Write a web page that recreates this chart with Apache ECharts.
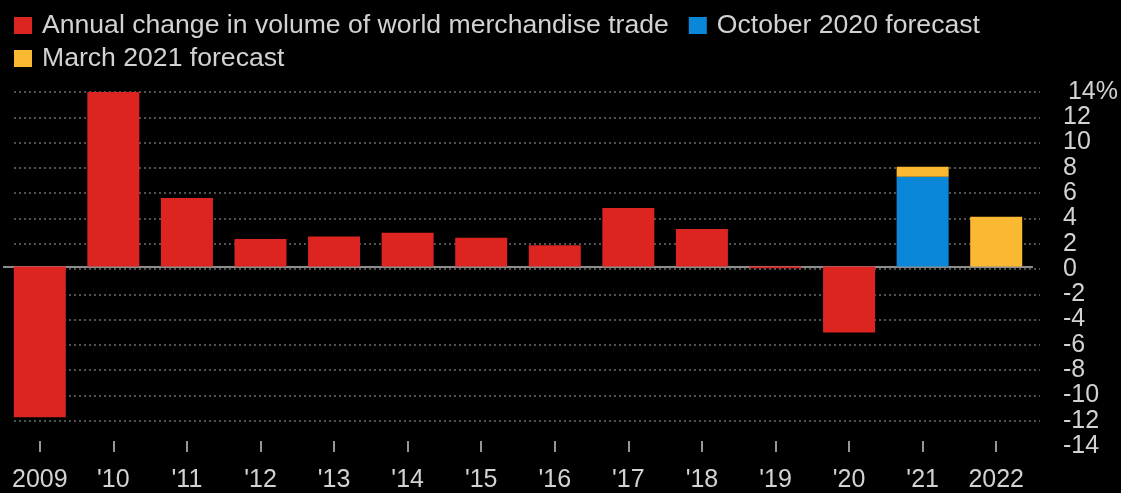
<!DOCTYPE html>
<html>
<head>
<meta charset="utf-8">
<script src="https://cdn.jsdelivr.net/npm/echarts@6/dist/echarts.min.js"></script>
<style>
html,body{margin:0;padding:0;background:#000;}
#chart{width:1121px;height:493px;}
</style>
</head>
<body>
<div id="chart"></div>
<script>
// ---- data ----
const categories = ['2009', "'10", "'11", "'12", "'13", "'14", "'15", "'16", "'17", "'18", "'19", "'20", "'21", '2022'];
const annualChange = [-12.1, 14.0, 5.5, 2.2, 2.4, 2.7, 2.3, 1.7, 4.7, 3.0, -0.15, -5.3, null, null];
const oct2020Forecast = [null, null, null, null, null, null, null, null, null, null, null, null, 7.2, null];
const mar2021Forecast = [null, null, null, null, null, null, null, null, null, null, null, null, 0.8, 4.0];
const seriesNames = ['Annual change in volume of world merchandise trade', 'October 2020 forecast', 'March 2021 forecast'];
const yTicks = { min: -14, max: 14, interval: 2 };

// ---- font selection ----
function hasFont(name) {
  const c = document.createElement('canvas').getContext('2d');
  const s = 'abcdefghijklmnopqrstuvwxyz0123456789%';
  c.font = '40px monospace';
  const a = c.measureText(s).width;
  c.font = '40px "' + name + '", monospace';
  return c.measureText(s).width !== a;
}
const narrow = hasFont('Liberation Sans Narrow');
const axisFamily = narrow ? '"Liberation Sans Narrow", "Liberation Sans", sans-serif' : '"Liberation Sans", Arial, sans-serif';
const axisSize = narrow ? 28 : 25;
const legendFamily = '"Liberation Sans", Arial, sans-serif';
function textWidth(t, size, fam) {
  const c = document.createElement('canvas').getContext('2d');
  c.font = size + 'px ' + fam;
  return c.measureText(t).width;
}
const topPad = Math.max(0, Math.min(14, 1118 - 1063 - textWidth('14%', axisSize, axisFamily)));

const textColor = '#d2d2d2';
const gridColor = '#6c6c6c';
const colors = ['#dc2420', '#0b87d9', '#fbb932'];

const splitColors = [];
for (let v = yTicks.min; v <= yTicks.max; v += yTicks.interval) {
  splitColors.push(v === yTicks.min ? 'rgba(0,0,0,0)' : gridColor);
}

const chart = echarts.init(document.getElementById('chart'), null, { renderer: 'canvas' });
chart.setOption({
  backgroundColor: '#000',
  animation: false,
  legend: {
    left: 14,
    top: 12,
    width: 1000,
    padding: 0,
    itemWidth: 18,
    itemHeight: 17,
    itemGap: 6,
    icon: 'rect',
    data: seriesNames,
    textStyle: {
      color: textColor,
      fontSize: 26.6,
      fontFamily: legendFamily,
      lineHeight: 27,
      padding: [0, 14, 0, 5]
    }
  },
  grid: [
    { left: 14, right: 81, top: 92, bottom: 47, containLabel: false },
    { left: 3, right: 88, top: 92, bottom: 47, containLabel: false }
  ],
  xAxis: [
    { gridIndex: 0, type: 'value', min: 0, max: 1, show: false },
    {
      gridIndex: 1,
      type: 'category',
      data: categories,
      position: 'bottom',
      axisLine: { show: false, onZero: false },
      axisTick: { show: true, alignWithLabel: true, length: 11, lineStyle: { color: '#c8c8c8', width: 1.5 } },
      axisLabel: {
        color: textColor,
        fontSize: axisSize,
        fontFamily: axisFamily,
        margin: Math.round(485 - axisSize / 2 - 446),
        interval: 0
      },
      splitLine: { show: false }
    }
  ],
  yAxis: [
    {
      gridIndex: 0,
      type: 'value',
      position: 'right',
      min: yTicks.min,
      max: yTicks.max,
      interval: yTicks.interval,
      axisLine: { show: false },
      axisTick: { show: false },
      axisLabel: {
        color: textColor,
        fontSize: axisSize,
        fontFamily: axisFamily,
        margin: 23,
        align: 'left',
        formatter: function (v) { return v === yTicks.max ? '{top|' + v + '%}' : String(v); },
        rich: {
          top: { color: textColor, fontSize: axisSize, fontFamily: axisFamily, padding: [0, 0, 0, topPad] }
        }
      },
      splitLine: { show: true, lineStyle: { color: splitColors, width: 1.6, type: [2, 3] } }
    },
    {
      gridIndex: 1,
      type: 'value',
      min: yTicks.min,
      max: yTicks.max,
      interval: yTicks.interval,
      show: false,
      splitLine: { show: false }
    }
  ],
  series: [
    {
      name: seriesNames[0],
      type: 'bar',
      xAxisIndex: 1,
      yAxisIndex: 1,
      stack: 'trade',
      barWidth: 52,
      data: annualChange,
      itemStyle: { color: colors[0] },
      z: 3,
      markLine: {
        silent: true,
        symbol: 'none',
        z: 2,
        label: { show: false },
        lineStyle: { color: '#8c8c8c', width: 2, type: 'solid' },
        data: [{ yAxis: 0 }]
      }
    },
    {
      name: seriesNames[1],
      type: 'bar',
      xAxisIndex: 1,
      yAxisIndex: 1,
      stack: 'trade',
      barWidth: 52,
      data: oct2020Forecast,
      itemStyle: { color: colors[1] }
    },
    {
      name: seriesNames[2],
      type: 'bar',
      xAxisIndex: 1,
      yAxisIndex: 1,
      stack: 'trade',
      barWidth: 52,
      data: mar2021Forecast,
      itemStyle: { color: colors[2] }
    }
  ]
});
</script>
</body>
</html>
